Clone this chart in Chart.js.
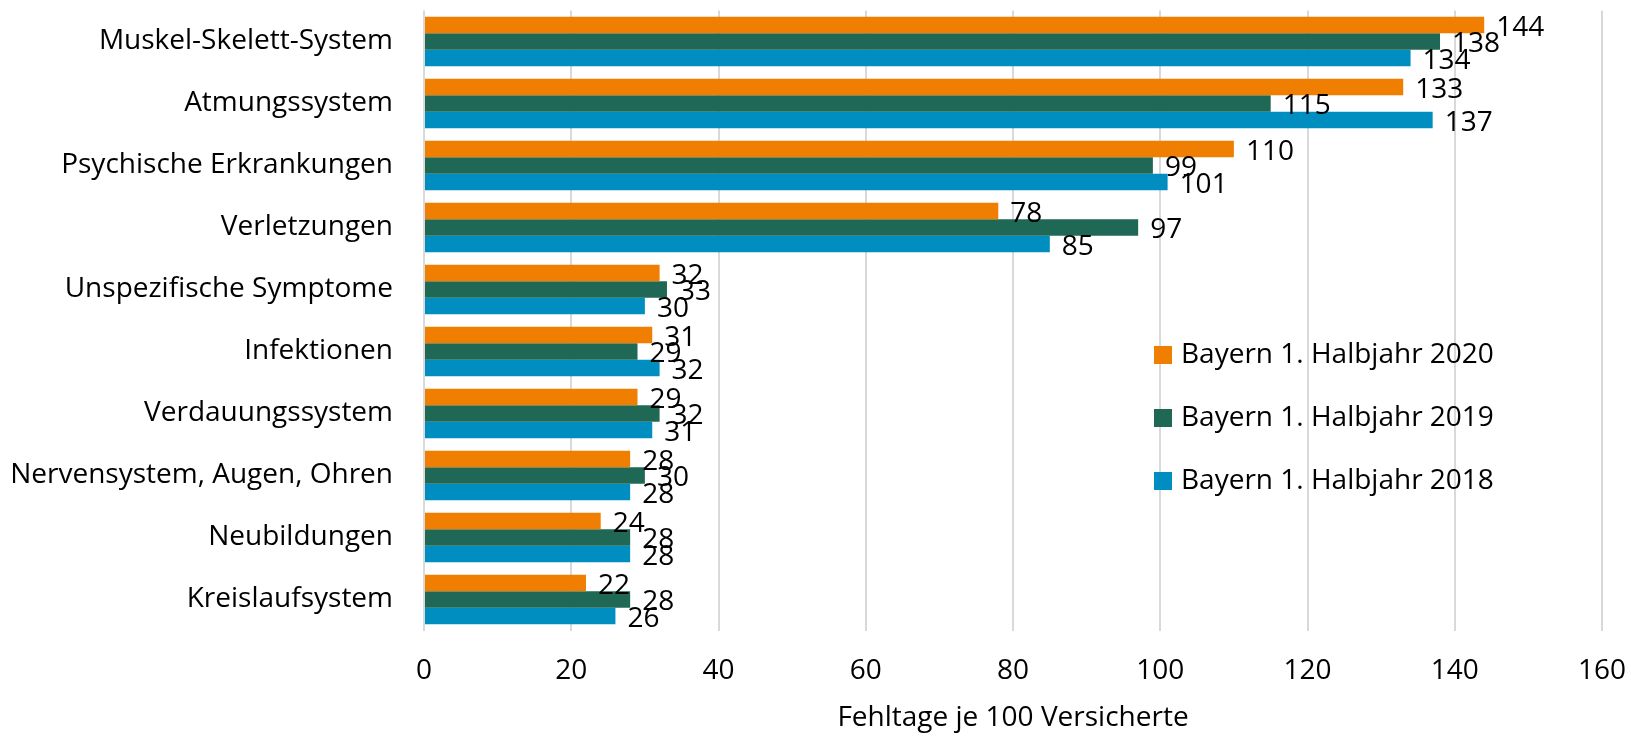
<!DOCTYPE html>
<html lang="de">
<head>
<meta charset="utf-8">
<title>Fehltage je 100 Versicherte</title>
<script src="https://cdn.jsdelivr.net/npm/chart.js@4.4.1/dist/chart.umd.min.js"></script>
<style>
  html, body { margin: 0; padding: 0; background: #fff; }
  #wrap { width: 1631px; height: 736px; }
</style>
</head>
<body>
<div id="wrap"><canvas id="chart" width="1631" height="736"></canvas></div>
<script>
const categories = [
  "Muskel-Skelett-System",
  "Atmungssystem",
  "Psychische Erkrankungen",
  "Verletzungen",
  "Unspezifische Symptome",
  "Infektionen",
  "Verdauungssystem",
  "Nervensystem, Augen, Ohren",
  "Neubildungen",
  "Kreislaufsystem",
];

const seriesNames = ["Bayern 1. Halbjahr 2020", "Bayern 1. Halbjahr 2019", "Bayern 1. Halbjahr 2018"];
const values2020 = [144, 133, 110, 78, 32, 31, 29, 28, 24, 22];
const values2019 = [138, 115, 99, 97, 33, 29, 32, 30, 28, 28];
const values2018 = [134, 137, 101, 85, 30, 32, 31, 28, 28, 26];
const xTicks = [0, 20, 40, 60, 80, 100, 120, 140, 160];

const seriesColors = ["#f07e00", "#1f6855", "#008ec0"];
const fontFamily = "'Open Sans', Lato, sans-serif";
const fontSize = 28;
const textColor = "#000000";

// value labels right of each bar end
const valueLabels = {
  id: "valueLabels",
  afterDatasetsDraw(chart) {
    const { ctx } = chart;
    ctx.save();
    ctx.font = `${fontSize}px ${fontFamily}`;
    ctx.fillStyle = textColor;
    ctx.textAlign = "left";
    ctx.textBaseline = "middle";
    chart.data.datasets.forEach((dataset, index) => {
      chart.getDatasetMeta(index).data.forEach((bar, i) => {
        ctx.fillText(String(dataset.data[i]), bar.x + 12, bar.y + 3);
      });
    });
    ctx.restore();
  },
};

// legend sits inside the plot, right side
const insideLegend = {
  id: "insideLegend",
  afterDraw(chart) {
    const { ctx } = chart;
    ctx.save();
    ctx.font = `${fontSize}px ${fontFamily}`;
    ctx.textAlign = "left";
    ctx.textBaseline = "middle";
    chart.data.datasets.forEach((dataset, index) => {
      const y = 355 + index * 63;
      ctx.fillStyle = dataset.backgroundColor;
      ctx.fillRect(1154, y - 9, 18, 18);
      ctx.fillStyle = textColor;
      ctx.fillText(dataset.label, 1181, y);
    });
    ctx.restore();
  },
};

const allValues = [values2020, values2019, values2018];

new Chart(document.getElementById("chart"), {
  type: "bar",
  data: {
    labels: categories,
    datasets: allValues.map((data, index) => ({
      label: seriesNames[index],
      data,
      backgroundColor: seriesColors[index],
      categoryPercentage: 0.8,
      barPercentage: 1.0,
    })),
  },
  options: {
    indexAxis: "y",
    responsive: false,
    animation: false,
    layout: {
      padding: { top: 10.5, right: 29, left: 0, bottom: 0 },
    },
    plugins: {
      legend: { display: false },
      tooltip: { enabled: false },
    },
    scales: {
      x: {
        min: 0,
        max: 160,
        afterBuildTicks(scale) {
          scale.ticks = xTicks.map((value) => ({ value }));
        },
        afterFit(scale) {
          scale.height = 105.5;
          scale.paddingLeft = 0;
          scale.paddingRight = 0;
        },
        grid: {
          color: "#d9d9d9",
          lineWidth: 2,
          drawTicks: false,
        },
        border: { display: false },
        ticks: {
          color: textColor,
          font: { family: fontFamily, size: fontSize },
          padding: 24,
        },
        title: {
          display: true,
          text: "Fehltage je 100 Versicherte",
          color: textColor,
          font: { family: fontFamily, size: fontSize },
          padding: { top: 0, bottom: 1 },
        },
      },
      y: {
        afterFit(scale) {
          scale.width = 424;
          scale.paddingTop = 0;
          scale.paddingBottom = 0;
        },
        grid: { display: false, drawTicks: false },
        border: { display: false },
        ticks: {
          color: textColor,
          font: { family: fontFamily, size: fontSize },
          padding: 31,
        },
      },
    },
  },
  plugins: [valueLabels, insideLegend],
});
</script>
</body>
</html>
